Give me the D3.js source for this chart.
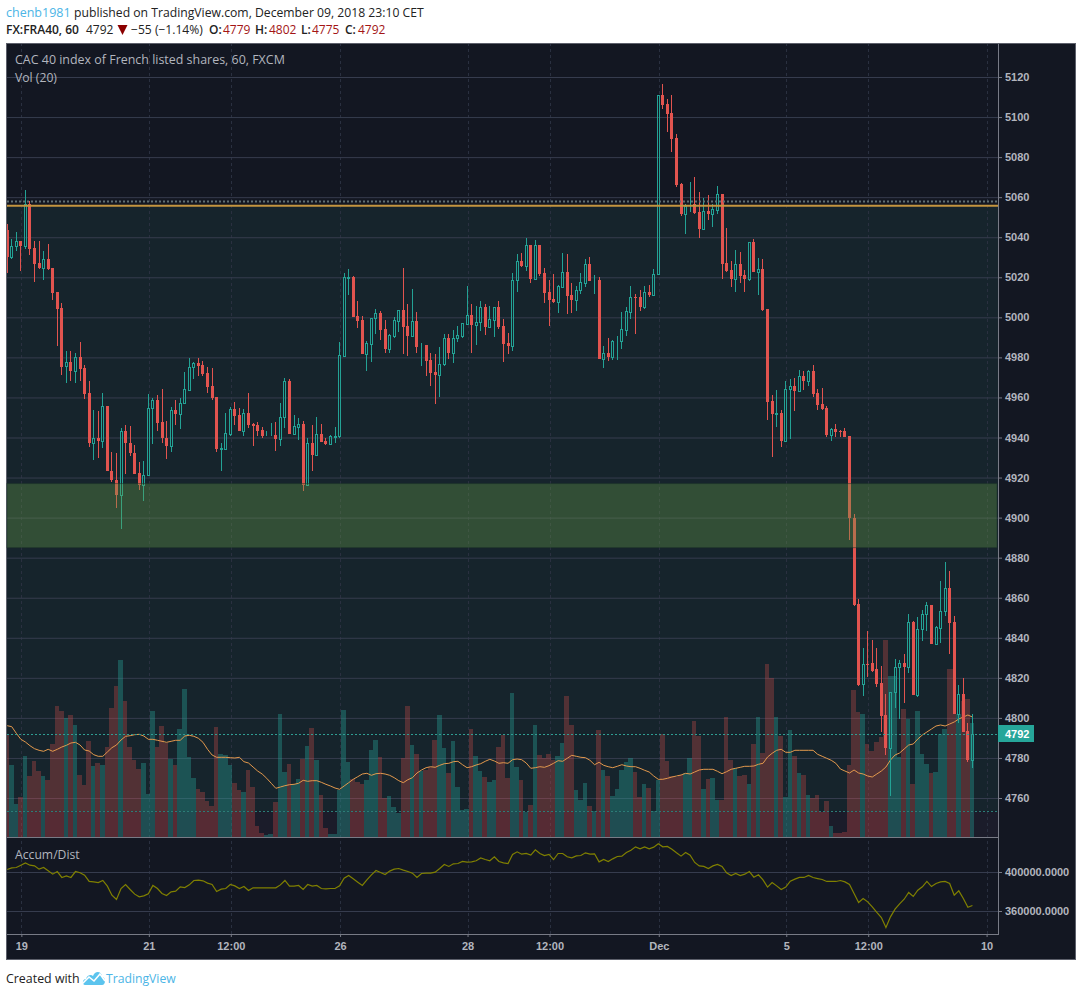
<!DOCTYPE html>
<html>
<head>
<meta charset="utf-8">
<title>FX:FRA40, 60</title>
<script src="https://cdn.jsdelivr.net/npm/d3@7"></script>
<style>
  html, body { margin: 0; padding: 0; background: #fff; }
  svg { display: block; }
  .ui { font-family: "Open Sans", sans-serif; }
  .axis text { font-family: "Liberation Sans", sans-serif; font-size: 11px; font-weight: bold; fill: #b2b5be; }
</style>
</head>
<body>
<svg id="chart" width="1081" height="996"></svg>
<script>
// hourly candles
const opens = [5043.7,5030.3,5035.8,5038,5035.8,5056.7,5034.7,5027,5024.7,5029,
  5024.7,5012.7,5004.7,4975.5,4977.5,4973.3,4980,4974.5,4962,4937.3,
  4940,4938.3,4955.5,4923.5,4919,4911.3,4943,4937.5,4932.5,4922.2,
  4916.2,4921.5,4954.5,4958.5,4947.5,4940,4935.8,4953.5,4951.8,4957,
  4963.8,4975,4977,4976,4972,4965.5,4960,4934.5,4934.3,4941.7,
  4954,4951,4943.2,4952,4946.7,4946,4943.7,4941,4941,4941.2,
  4939.5,4950,4968,4941.7,4945.2,4946.5,4916.2,4937.5,4931.2,4941.5,
  4938.2,4936.9,4940.3,4940.5,4980.8,5019.8,5020,5000.5,4998.5,4981.7,
  4986.8,4999.5,5002.2,4994,4984.3,4990.8,4998.3,5003.7,4995.7,4990.8,
  4998.2,4985.5,4986.2,4978.7,4972.7,4971.2,4976.8,4989.5,4982.2,4989.5,
  4990.8,4996.7,5001,4996.2,4997.5,5005,4995.2,4998.7,5005.2,4995.7,
  4987.2,4985.7,5018.5,5028.2,5025.7,5036.2,5019.2,5036.2,5022,5012.7,
  5009.2,5007.8,5015.3,5022.7,5011.2,5008.8,5013.5,5017.3,5026.7,5018.4,
  5018.5,4979.2,4982,4980.2,4988,4988.2,4993.7,5002.8,5010.1,5010,
  5005.2,5012.7,5011.3,5021.5,5111.2,5106.7,5102.2,5089.5,5066.5,5051.7,
  5056,5056.7,5052.7,5044.2,5053.2,5051.7,5053.8,5061.7,5027,5023.7,
  5019.3,5026.7,5021.2,5019.2,5037.7,5022.7,5024.2,5004.2,4958.2,4951.9,
  4952.2,4938.2,4964,4965.7,4963,4970.7,4968.2,4973.2,4962.2,4956.7,
  4954.7,4941.2,4944.2,4943.3,4943.2,4940.7,4900,4856.7,4816.7,4827.1,
  4827.2,4824.3,4817.3,4801.3,4785,4812.7,4825.2,4827.4,4825.4,4847.8,
  4811.4,4844.2,4851.8,4856.6,4836.8,4845,4853.6,4865.1,4847.8,4801.9,
  4811.7,4793.4,4779];
const closes = [5030.3,5035.8,5038,5035.7,5056.7,5034.3,5026.7,5024.7,5029,5024,
  5012.3,5004.3,4975.3,4977.5,4973.3,4980,4974.3,4961.8,4937.3,4940,
  4938.3,4955.5,4923.3,4918.7,4911.3,4943,4937.2,4932.2,4921.7,4916.2,
  4921.5,4954.5,4958.5,4947.3,4939.7,4935.8,4953.5,4951.7,4957,4964,
  4975,4977,4975.7,4971.7,4965,4959.8,4934.2,4934.8,4942,4954,
  4950.7,4943.2,4952,4946.2,4945.7,4943.2,4940.7,4941.2,4941.2,4939.2,
  4950,4968,4941.7,4945.5,4946.5,4916.2,4937.5,4931.2,4941.5,4937.7,
  4936.7,4940.5,4940.5,4981,5020,5020,5000.2,4998.2,4981.7,4987,
  4999.5,5002,4993.7,4984.2,4991,4998.5,5003.5,4995.3,4990.7,4998,
  4985.2,4985.8,4978.2,4972.2,4971.2,4976.8,4989.5,4982.2,4989.5,4991,
  4997,5001,4996.2,4997.5,5005,4995.2,4999,5005,4995.2,4986.7,
  4985.7,5018.5,5028,5025.7,5036,5019.2,5036,5021.7,5012.2,5008.7,
  5007.7,5015.7,5022.5,5010.7,5008.7,5013.7,5017.5,5026.5,5018.2,5018.6,
  4979.2,4982,4980,4988,4988.3,4994,5003,5010,5009.9,5005.2,
  5012.5,5011.2,5021.5,5111,5106.2,5101.7,5089.2,5066.2,5051.7,5055.7,
  5056.2,5052,5044.2,5053,5051.7,5054,5061.5,5026.7,5023.2,5019.2,
  5026.5,5020.7,5019.2,5037.5,5022.7,5024,5003.7,4957.7,4951.7,4952.1,
  4938.2,4964,4965.5,4963.2,4970.5,4968.2,4973,4961.7,4956.2,4954.2,
  4941.2,4944,4942.7,4943.1,4940.2,4900,4856.2,4816.2,4827,4826.9,
  4823.5,4816.8,4800.8,4785,4812.7,4825.2,4827.2,4825.4,4847.8,4811.4,
  4844.2,4852.1,4856.6,4836.8,4845.2,4853.6,4865.1,4847.3,4801.9,4811.7,
  4793,4779,4792];
const highs = [5046.7,5039.2,5042.5,5038,5063.7,5058,5038,5038,5033,5036.7,
  5024.7,5012.7,5007.2,4983.2,4983.2,4982.2,4987.7,4976,4968,4953.5,
  4953,4962,4955.5,4933,4932.5,4944.5,4946,4945.5,4936.5,4928,
  4928.5,4961.5,4959.5,4961,4964,4948,4955,4958.5,4959.7,4972.5,
  4979.5,4977.7,4979.7,4978.2,4975,4974.5,4960,4937.5,4952.2,4955,
  4957.5,4954.5,4954,4962,4947,4947.5,4945.2,4943.2,4947.2,4947.7,
  4957,4969.5,4969,4951,4949.5,4948,4940,4946,4950,4946.5,
  4940,4941,4945.2,4987.5,5022,5024,5020.7,5008.2,5000.7,4988,
  4999.5,5004.2,5003.2,4998.7,4991.7,5000,5003.5,5024.7,5006.7,5014,
  5002.7,4987,4986.2,4982.2,4981.5,4985.2,4991.5,4991.5,4993.5,4995.5,
  4997,5015.7,5006.7,5005.7,5008.2,5006.7,5005.7,5005,5008.2,4999.2,
  4992.2,5022,5031.7,5032.2,5039.7,5036.2,5038.7,5036.2,5024.7,5018.7,
  5021.7,5016.2,5032.2,5031.7,5017.2,5015.7,5022.2,5029,5030.2,5021,
  5020,4985.7,4989.7,4988.5,4990.7,5002.7,5005,5015.7,5011.7,5013.7,
  5015.7,5016.2,5024.2,5111,5116.7,5109.2,5111.2,5091.7,5067,5056.7,
  5067.7,5070.2,5062.7,5059.7,5061,5056.7,5065.7,5061.7,5044.7,5028.2,
  5033.7,5032.7,5023.7,5037.5,5039.2,5029.7,5029.2,5004.2,4961.2,4963.7,
  4953.7,4968.2,4969.2,4969.7,4973.7,4973.2,4973.7,4976.2,4964.2,4964.7,
  4955.7,4944.7,4946.7,4943.7,4944.7,4940.7,4902,4859.2,4834.7,4843.2,
  4838.7,4834.7,4825.8,4812,4812.7,4829.4,4828.9,4831.9,4851.8,4848.5,
  4850.2,4854.1,4857.8,4856.6,4845.7,4868.1,4877.6,4873.3,4850.8,4816.2,
  4820,4797.4,4802];
const lows = [5022,5029.3,5033.3,5023.3,5034.3,5031.3,5017.8,5024.3,5018.7,5023.7,
  5008.7,4985.7,4971.3,4967.3,4968.3,4967.3,4968.3,4959.3,4935.3,4928.8,
  4929.8,4934.8,4923.3,4917.7,4904.7,4894.3,4921.7,4930.7,4921.7,4913.7,
  4908.2,4921.5,4936.7,4943.3,4937.2,4929.3,4932.7,4946.2,4944.2,4957,
  4963.3,4969.3,4970.7,4970.7,4962.2,4958.7,4932.7,4923.2,4934.3,4940.7,
  4946.2,4943.2,4940.7,4944.7,4935.7,4940.7,4940,4940.7,4940.7,4933.2,
  4935.7,4944.7,4941.7,4941.7,4938.7,4913.2,4915.7,4923.2,4930.7,4937.7,
  4936.2,4936.7,4937.2,4940,4980.2,5011.2,5000.2,4994.7,4981.7,4973.2,
  4977.7,4991.7,4988.7,4982.2,4982.2,4989.7,4992.7,4981.7,4980.7,4990,
  4982.2,4975.7,4970.7,4965.7,4956.7,4960.2,4975.7,4979.2,4977.2,4987.7,
  4989.7,4996.7,4982.2,4986.2,4993.2,4991.2,4995.2,4990.2,4994.2,4977.7,
  4981.7,4983.2,5012.7,5025.2,5023.2,5017.2,5019.2,5020.7,5007.2,4995.7,
  5007.2,5002.2,5015,5001.7,5002.2,5003.2,5011.7,5015.2,5018.2,5011.7,
  4979.2,4974.7,4978.2,4978.7,4978.7,4984.2,4990.7,4999.2,4991.7,5003.2,
  5004.2,5010.2,5011.3,5021.5,5104.2,5092.7,5082.7,5065.2,5050.7,5041.7,
  5052.7,5051.7,5039.7,5043.7,5048.7,5045.2,5051.7,5019.2,5022.7,5015.2,
  5012.7,5017.2,5012.7,5018.2,5022.7,5011.2,5003.2,4948.7,4930.2,4945.2,
  4935.2,4938.2,4939.2,4953.2,4962.7,4963.7,4965.7,4960.2,4953.7,4953.7,
  4940.2,4938.2,4940.2,4940.2,4940.2,4889,4855.7,4815.7,4810.7,4820.2,
  4822.7,4815.2,4793.2,4781.5,4761,4804.9,4799.5,4807.4,4822.4,4811.4,
  4810.4,4838.3,4843.3,4836.8,4836.3,4837.3,4850.8,4831.8,4801.9,4797.4,
  4793,4778,4775];
// volume has no axis in the picture, so these are relative units
const volumes = [102,72,33,40,81,61,76,66,61,57,
  93,131,126,119,122,112,62,52,96,71,
  74,72,90,129,151,177,136,90,77,68,
  74,43,126,90,111,94,78,72,108,148,
  80,59,48,45,36,31,110,83,82,72,
  54,47,45,67,50,11,4,2,3,35,
  123,65,73,53,58,78,91,109,77,42,
  9,3,3,47,127,75,58,55,53,57,
  87,97,80,39,41,30,24,79,131,92,
  83,66,67,70,97,122,89,64,96,50,
  27,28,108,81,66,60,55,57,90,102,
  59,144,70,57,25,32,112,82,79,83,
  77,81,94,141,112,47,37,54,31,26,
  107,67,61,41,48,67,75,79,65,40,
  53,49,26,57,103,76,61,60,62,64,
  79,116,101,48,58,59,37,37,120,77,
  69,61,62,53,93,120,84,173,159,120,
  101,40,107,81,64,62,42,39,42,25,
  36,11,4,4,5,72,147,125,123,93,
  86,95,100,197,161,161,80,128,118,53,
  126,83,73,64,65,103,108,168,168,123,
  136,138,114];
const volumeAvg = [111.3,110.3,103.7,97.7,95,91.3,88.3,86.7,85.7,87.7,
  85.7,87.7,90,91.7,94,94.7,92,87,86,82.3,
  80.7,80.7,85,89.3,92,97,100.7,101.3,102.3,102.7,
  101,97.7,97.7,96.7,95.7,94.7,95.7,96.7,96.7,101,
  101.7,100.7,98.7,94.7,87.7,82,79.7,79.7,79.7,79.3,
  79,79.7,75.3,74,70,66,63,58.7,53.7,48.7,
  50,51.3,52.3,52.7,53.7,56.7,55.7,56.3,56.3,54.7,
  52.7,51,49,47.7,51,54.3,57.7,60.3,63,63.7,
  61.7,63.3,63.7,63,61.7,59.3,56.3,54.3,57.3,59.3,
  64,67,69.3,70.3,69.7,71.7,73.3,73.7,75.3,75.7,
  72.3,69.3,70.3,72,73.3,75.7,77.7,76,73.7,74.3,
  73.7,77.3,78,77.3,74,68.7,69.3,70.3,69.7,71.3,
  73.7,76.3,75.7,78.7,81.7,80.7,79.7,79.3,76.7,72.3,
  74.7,71.7,70.3,69.3,70.7,72.3,71,70.3,70.3,68.7,
  66.7,65,61,57.7,57.7,58.7,60,61,62,63.7,
  63,65,67,67.7,67.7,67.7,65.7,63.3,65.3,67.7,
  68.7,69.7,70.7,70.7,71,72.7,73.7,80,83.7,86.7,
  87.7,84.7,84.7,86.7,86.7,86.7,86.7,86.7,82.7,80.7,
  78.7,76.7,73.7,68,66,64,67,64,63,61,
  60,63,66,70,77,82,84,88,92,93,
  98,102,105,108,111,112,111,113,115,118,
  120,122,120];
// Accum/Dist in thousands
const accumDist = [403.1,404.8,405.1,407.5,409.9,407.5,406.8,403.4,405.1,401.7,
  398.3,401,394.9,396.6,394.9,401,399.7,397.3,390.8,390.4,
  389.7,391.8,386,376.7,372.3,383.6,387.7,382.6,377.8,375,
  376.1,378.1,386.7,383.6,378.5,376.4,380.2,380.8,385.3,384.6,
  387.3,391.8,392.1,391.5,389.1,387.7,380.5,382.9,383.6,387.7,
  386.3,383.6,385.6,381.5,384.3,384.3,384.3,384.3,384.3,384.3,
  387.3,391.8,386,386,386.7,382.6,387.7,386,386.7,383.6,
  383.2,383.6,383.6,386.3,394.2,396.9,393.5,390.1,386.7,392.5,
  397.6,402.1,400,397.9,401.4,403.4,404.1,402.4,401,399.3,
  394.9,399,399.3,399.3,400.3,404.1,408.2,406.2,408.9,409.2,
  411.3,410.6,410.9,412,415,413.3,412,416.1,411.3,409.9,
  409.2,418.5,421.2,418.8,419.5,417.8,423.3,419.5,417.4,418.5,
  413.3,419.5,419.5,416.1,415,417.1,417.4,420.2,418.8,419.2,
  410.9,413.3,411.3,414,416.4,416.8,420.5,422.9,426.3,424.3,
  426.3,424.3,426,429.4,426.3,426.7,423.9,420.2,416.8,420.5,
  417.8,410.3,406.8,406.2,404.1,406.8,408.2,406.2,399.7,396.9,
  399,396.9,398.3,401,395.2,397.6,392.5,385,389.7,386.3,
  382.6,385,391.1,393.2,394.9,394.9,396.9,394.9,393.8,392.8,
  390.8,390.8,390.8,391.8,390.4,387.7,378.5,369.2,373.3,369.9,
  364.8,359,353.8,343.6,354.5,362.4,367.9,372.6,379.5,375.4,
  381.9,385.3,390.8,385.6,388.7,390.4,390.8,388.7,376.7,381.2,
  373.3,364.4,366.1];

const priceTicks = [5120,5100,5080,5060,5040,5020,5000,4980,4960,4940,4920,4900,4880,4860,4840,4820,4800,4780,4760];
const accumTicks = [400, 360];
const timeTickBars = [3, 31, 49, 73, 101, 119, 143, 171, 189, 215];
const timeTickLabels = ["19", "21", "12:00", "26", "28", "12:00", "Dec", "5", "12:00", "10"];

const lastPrice = 4792;
const resistance = 5056, resistanceDotted = 5058;
const supportTop = 4917, supportBottom = 4885;
const zoneFloor = 4753.5;

// layout
const left = 7, right = 998, outerRight = 1075, paneTop = 44, paneBottom = 837, accumBottom = 934, outerBottom = 959;
const barStep = 4.553;

const x = d3.scaleLinear().domain([0, 212]).range([6.7, 6.7 + 212 * barStep]);
const y = d3.scaleLinear().domain([5120, 4760]).range([77, 798]);
const yVol = d3.scaleLinear().domain([0, 197]).range([paneBottom, paneBottom - 197]);
const yAccum = d3.scaleLinear().domain([400, 360]).range([872, 911]);

const red = "#e2544f", teal = "#23a295";
const svg = d3.select("#chart");
const defs = svg.append("defs");
defs.append("clipPath").attr("id", "pane").append("rect")
  .attr("x", left).attr("y", paneTop).attr("width", right - left).attr("height", paneBottom - paneTop);
defs.append("clipPath").attr("id", "accum").append("rect")
  .attr("x", left).attr("y", paneBottom).attr("width", right - left).attr("height", accumBottom - paneBottom);

// backgrounds
svg.append("rect").attr("x", 6.5).attr("y", 43.5).attr("width", outerRight - 6).attr("height", outerBottom - 43)
  .attr("fill", "#131722").attr("stroke", "#5d606b");
svg.append("rect").attr("x", left).attr("y", y(resistance)).attr("width", right - left)
  .attr("height", y(zoneFloor) - y(resistance)).attr("fill", "#16242c");
svg.append("rect").attr("x", left).attr("y", y(zoneFloor)).attr("width", right - left)
  .attr("height", paneBottom - y(zoneFloor)).attr("fill", "#1b1c2a");

// grids
const gridX = d3.axisBottom(x).tickValues(timeTickBars).tickSize(-(accumBottom - paneTop)).tickFormat("");
svg.append("g").attr("transform", `translate(1,${accumBottom})`).call(gridX)
  .call(g => g.select(".domain").remove())
  .selectAll("line").attr("stroke", "#2a3040").attr("stroke-dasharray", "3,3").attr("shape-rendering", "crispEdges");
const gridY = d3.axisRight(y).tickValues(priceTicks).tickSize(-(right - left)).tickFormat("");
svg.append("g").attr("transform", `translate(${right},0)`).call(gridY)
  .call(g => g.select(".domain").remove())
  .selectAll("line").attr("stroke", "#363c4e");
const gridAccum = d3.axisRight(yAccum).tickValues(accumTicks).tickSize(-(right - left)).tickFormat("");
svg.append("g").attr("transform", `translate(${right},0)`).call(gridAccum)
  .call(g => g.select(".domain").remove())
  .selectAll("line").attr("stroke", "#363c4e");

const pane = svg.append("g").attr("clip-path", "url(#pane)");

// volume bars
const isUp = i => closes[i] >= opens[i];
pane.append("g").attr("shape-rendering", "crispEdges")
  .selectAll("rect").data(volumes).join("rect")
  .attr("x", (d, i) => Math.round(x(i - 0.5)))
  .attr("width", (d, i) => Math.round(x(i + 0.5)) - Math.round(x(i - 0.5)))
  .attr("y", d => yVol(d))
  .attr("height", d => paneBottom - yVol(d))
  .attr("fill", (d, i) => isUp(i) ? "#26a69a" : "#ef5350")
  .attr("fill-opacity", (d, i) => isUp(i) ? 0.36 : 0.28);

// volume average
pane.append("path").datum(volumeAvg)
  .attr("fill", "none").attr("stroke", "#e3994d").attr("stroke-width", 1)
  .attr("d", d3.line().x((d, i) => x(i) + 0.5).y(d => yVol(d)));

// candles
const col = i => Math.round(x(i));
const candles = pane.append("g").attr("shape-rendering", "crispEdges")
  .selectAll("g").data(d3.range(opens.length)).join("g")
  .attr("fill", i => isUp(i) ? teal : red);
const bodyTop = i => Math.round(y(Math.max(opens[i], closes[i])));
const bodyBot = i => Math.round(y(Math.min(opens[i], closes[i])));
// upper and lower wick are separate so hollow bodies stay empty
candles.append("rect").attr("x", col).attr("width", 1)
  .attr("y", i => Math.round(y(highs[i])))
  .attr("height", i => Math.max(0, bodyTop(i) - Math.round(y(highs[i]))));
candles.append("rect").attr("x", col).attr("width", 1)
  .attr("y", i => bodyBot(i))
  .attr("height", i => Math.max(0, Math.round(y(lows[i])) - bodyBot(i)));
candles.filter(i => !isUp(i)).append("rect")
  .attr("x", i => col(i) - 1).attr("width", 3)
  .attr("y", bodyTop).attr("height", i => Math.max(1, bodyBot(i) - bodyTop(i)));
candles.filter(isUp).append("rect")
  .attr("x", i => col(i) - 0.5).attr("width", 2)
  .attr("y", i => bodyTop(i) + 0.5).attr("height", i => bodyBot(i) - bodyTop(i))
  .attr("fill", "none").attr("stroke", teal);

// drawn objects on top of the candles
svg.append("rect").attr("x", left).attr("y", y(supportTop)).attr("width", right - left - 1)
  .attr("height", y(supportBottom) - y(supportTop))
  .attr("fill", "rgba(102,159,75,0.35)").attr("stroke", "rgba(25,50,40,0.5)");
const hline = (price, color, width, dash) => svg.append("line")
  .attr("x1", left).attr("x2", right).attr("y1", Math.round(y(price)) + 0.5).attr("y2", Math.round(y(price)) + 0.5)
  .attr("stroke", color).attr("stroke-width", width).attr("stroke-dasharray", dash);
hline(resistanceDotted, "#5f6f74", 2, "2,2");
svg.append("line").attr("x1", left).attr("x2", right).attr("y1", y(resistance) + 0.6).attr("y2", y(resistance) + 0.6)
  .attr("stroke", "#c4953f").attr("stroke-width", 2);
hline(lastPrice, "#2f9e93", 1, "2,2");
hline(zoneFloor, "#2b7d77", 1, "2,2");

// accum/dist
svg.append("path").datum(accumDist).attr("clip-path", "url(#accum)")
  .attr("fill", "none").attr("stroke", "#808000").attr("stroke-width", 1.2)
  .attr("d", d3.line().x((d, i) => x(i) + 0.5).y(d => yAccum(d) + 0.5));

// axes
const styleAxis = g => {
  g.attr("class", "axis");
  g.selectAll("line").attr("stroke", "#787b86");
  g.select(".domain").attr("stroke", "#787b86");
};
const priceAxis = d3.axisRight(y).tickValues(priceTicks).tickSize(4).tickPadding(3).tickSizeOuter(0).tickFormat(d3.format("d"));
svg.append("g").attr("transform", `translate(${right},0)`).call(priceAxis).call(styleAxis)
  .call(g => g.select(".domain").attr("d", `M0.5,${paneTop}V${accumBottom}`));
const accumAxis = d3.axisRight(yAccum).tickValues(accumTicks).tickSize(4).tickPadding(3)
  .tickFormat(d => (d * 1000).toFixed(4));
svg.append("g").attr("transform", `translate(${right},0)`).call(accumAxis).call(styleAxis)
  .call(g => g.select(".domain").remove());
const timeAxis = d3.axisBottom(x).tickValues(timeTickBars).tickSize(3).tickPadding(5)
  .tickFormat((d, i) => timeTickLabels[i]);
svg.append("g").attr("transform", `translate(1,${accumBottom})`).call(timeAxis).call(styleAxis)
  .call(g => g.select(".domain").attr("d", `M${left - 1},0.5H${right}`));
svg.append("line").attr("x1", left).attr("x2", right).attr("y1", paneBottom + 0.5).attr("y2", paneBottom + 0.5)
  .attr("stroke", "#787b86");

// last price tag
svg.append("rect").attr("x", right).attr("y", Math.round(y(lastPrice)) - 9).attr("width", 36).attr("height", 17).attr("fill", "#26a69a");
svg.append("text").attr("class", "axis").attr("x", right + 7).attr("y", y(lastPrice) + 4)
  .attr("font-family", "Liberation Sans").attr("font-size", 11).attr("font-weight", "bold")
  .attr("fill", "#fff").style("fill", "#fff").text(lastPrice);

// pane legends
const ui = (sel, px, py, txt, fill, size, weight) => sel.append("text").attr("class", "ui")
  .attr("x", px).attr("y", py).attr("fill", fill).attr("font-size", size).attr("font-weight", weight || 400).text(txt);
ui(svg, 15, 64, "CAC 40 index of French listed shares, 60, FXCM", "#b2b5be", 12.45);
ui(svg, 15, 82, "Vol (20)", "#b2b5be", 12.2);
ui(svg, 15, 859, "Accum/Dist", "#b2b5be", 12.2);

// header
const blue = "#4cb5e6", ink = "#222", dark = "#a31515";
ui(svg, 6, 17, "chenb1981", blue, 12.5);
ui(svg, 74, 17, "published on TradingView.com, December 09, 2018 23:10 CET", ink, 12.2);
ui(svg, 6, 34, "FX:FRA40, 60", ink, 12, 600);
ui(svg, 86, 34, "4792", ink, 12);
svg.append("path").attr("d", "M117.5,25H127.5L122.5,35Z").attr("fill", "#8b0000");
ui(svg, 131, 34, "\u221255 (\u22121.14%)", ink, 12.1);
ui(svg, 209, 34, "O:", ink, 12, 600);
ui(svg, 223, 34, "4779", dark, 12);
ui(svg, 255, 34, "H:", ink, 12, 600);
ui(svg, 269, 34, "4802", dark, 12);
ui(svg, 301, 34, "L:", ink, 12, 600);
ui(svg, 312, 34, "4775", dark, 12);
ui(svg, 345, 34, "C:", ink, 12, 600);
ui(svg, 358, 34, "4792", dark, 12);

// footer
ui(svg, 6, 983, "Created with", ink, 12.4);
const logo = svg.append("g").attr("transform", "translate(82,970)");
logo.append("path").attr("d", "M3,15C0,15 0,9 4,9C5,5 9,4 11,6C13,0 20,1 20,7C24,7 24,15 20,15Z").attr("fill", "#5cc4ee");
logo.append("path").attr("d", "M0,14L7,7L12,11L18,4L23,11").attr("fill", "none").attr("stroke", "#fff").attr("stroke-width", 1.6);
ui(svg, 106, 983, "TradingView", blue, 12.2);
</script>
</body>
</html>
